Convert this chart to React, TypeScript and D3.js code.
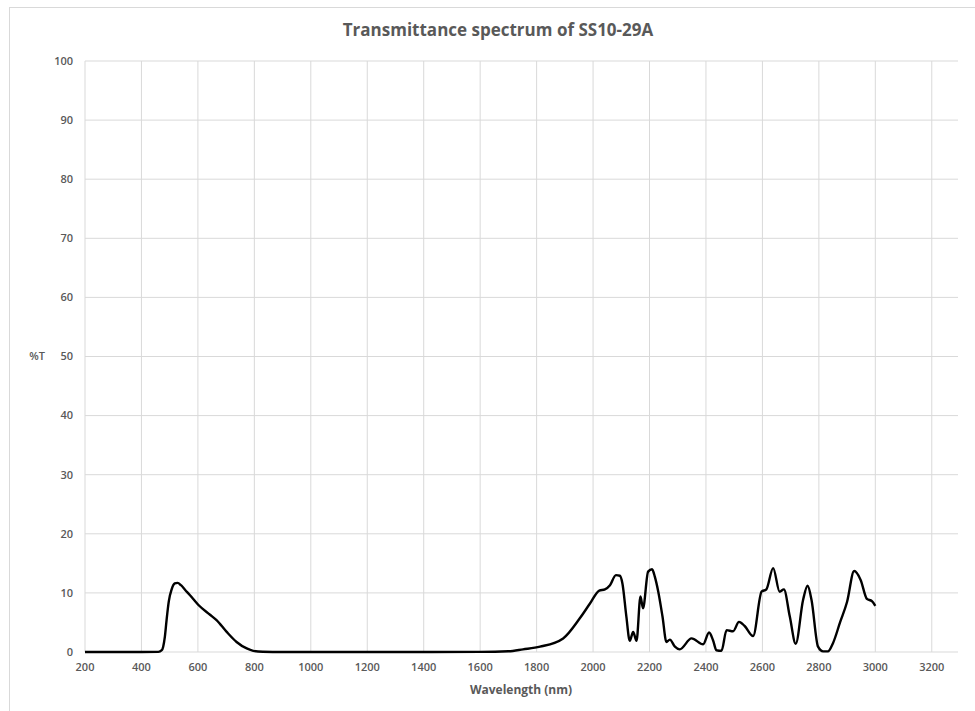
import React from "react";
import * as d3 from "d3";

const wavelengths = [
  200, 300, 400, 460, 472, 477, 483, 489, 497, 507, 518, 528, 540, 555, 572, 601, 643, 666, 702, 737, 773, 796, 830, 900,
  1000, 1200, 1400, 1600, 1700, 1752, 1812, 1894, 1953, 1989, 2022, 2042, 2060, 2081, 2095, 2104, 2118, 2130, 2142, 2154,
  2168, 2177, 2195, 2209, 2219, 2231, 2246, 2260, 2272, 2290, 2307, 2349, 2390, 2411, 2425, 2437, 2455, 2473, 2496, 2517,
  2537, 2567, 2597, 2614, 2638, 2661, 2676, 2697, 2718, 2744, 2760, 2774, 2797, 2815, 2832, 2850, 2875, 2900, 2925, 2948,
  2970, 2988, 3000,
];
const transmittance = [
  0, 0, 0, 0.02, 0.3, 0.9, 2.6, 5.4, 8.6, 10.6, 11.6, 11.7, 11.3, 10.5, 9.6, 8.0, 6.3, 5.4, 3.4, 1.7, 0.6, 0.2, 0.05, 0,
  0, 0, 0, 0.02, 0.12, 0.45, 0.9, 2.3, 5.7, 8.2, 10.4, 10.6, 11.3, 13.0, 12.9, 11.6, 6.0, 1.9, 3.4, 1.9,
  9.4, 7.4, 13.6, 14.0, 12.7, 10.2, 6.0, 1.7, 2.1, 0.9, 0.45, 2.3, 1.3, 3.3, 2.0, 0.3, 0.2, 3.7, 3.5, 5.1,
  4.4, 2.7, 10.2, 10.6, 14.2, 10.2, 10.6, 6.0, 1.4, 8.8, 11.2, 8.8, 0.9, 0.1, 0.1, 1.5, 5.0, 8.5, 13.7, 12.2,
  9.0, 8.6, 7.8,
];
const xTicks = [200, 400, 600, 800, 1000, 1200, 1400, 1600, 1800, 2000, 2200, 2400, 2600, 2800, 3000, 3200];
const yTicks = [0, 10, 20, 30, 40, 50, 60, 70, 80, 90, 100];

const title = "Transmittance spectrum of SS10-29A";
const xTitle = "Wavelength (nm)";
const yTitle = "%T";

export default function App() {
  const W = 975;
  const H = 711;
  const x = d3.scaleLinear().domain([200, 3300]).range([85, 960]);
  const y = d3.scaleLinear().domain([0, 100]).range([652, 61]);
  const pts = wavelengths.map((w, i) => [w, transmittance[i]] as [number, number]);
  const line = d3
    .line<[number, number]>()
    .x((d) => x(d[0]))
    .y((d) => y(d[1]))
    .curve(d3.curveMonotoneX);
  const font = "'Open Sans', 'Liberation Sans', sans-serif";
  const grey = "#595959";
  const grid = "#d9d9d9";
  return (
    <svg
      width={W}
      height={H}
      style={{ position: "absolute", left: 0, top: 0, background: "#fff" }}
      fontFamily={font}
    >
      <rect x={9.5} y={7.5} width={W} height={H} fill="#fff" stroke={grid} strokeWidth={1} />
      <text x={498} y={36} textAnchor="middle" fontSize={17} fontWeight={700} fill={grey}>
        {title}
      </text>
      {yTicks.map((t) => (
        <line key={"h" + t} x1={x(200)} x2={958} y1={y(t)} y2={y(t)} stroke={grid} strokeWidth={1} />
      ))}
      {xTicks.map((t) => (
        <line key={"v" + t} x1={x(t)} x2={x(t)} y1={y(0)} y2={y(100)} stroke={grid} strokeWidth={1} />
      ))}
      {yTicks.map((t) => (
        <text key={"yl" + t} x={73} y={y(t)} dy="0.35em" textAnchor="end" fontSize={11} fontWeight={600} fill={grey}>
          {t}
        </text>
      ))}
      {xTicks.map((t) => (
        <text key={"xl" + t} x={x(t)} y={667} dy="0.35em" textAnchor="middle" fontSize={11} fontWeight={600} fill={grey}>
          {t}
        </text>
      ))}
      <text x={521} y={690} dy="0.35em" textAnchor="middle" fontSize={12} fontWeight={700} fill={grey}>
        {xTitle}
      </text>
      <text x={37} y={y(50)} dy="0.35em" textAnchor="middle" fontSize={11} fontWeight={600} fill={grey}>
        {yTitle}
      </text>
      <path d={line(pts) || ""} fill="none" stroke="#000" strokeWidth={2.4} strokeLinejoin="round" />
    </svg>
  );
}
